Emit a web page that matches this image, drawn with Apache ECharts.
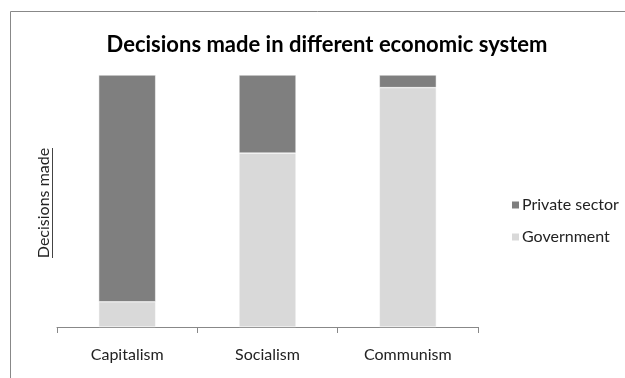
<!DOCTYPE html>
<html><head><meta charset="utf-8">
<script src="https://cdn.jsdelivr.net/npm/echarts@6/dist/echarts.min.js"></script>
<style>html,body{margin:0;padding:0;background:#fff}#c{width:625px;height:378px}</style>
</head><body><div id="c"></div>
<script>
var categories = ['Capitalism', 'Socialism', 'Communism'];
var government = [10, 69, 95];
var privateSector = [90, 31, 5];
var seriesNames = ['Private sector', 'Government'];
var titleText = 'Decisions made in different economic system';
var yName = 'Decisions made';

var chart = echarts.init(document.getElementById('c'));
var font = 'Lato, sans-serif';
chart.setOption({
  animation: false,
  title: {text: titleText, left: 322, top: 29, textAlign: 'center',
    textStyle: {fontFamily: font, fontSize: 22, fontWeight: 'bold', color: '#000'}},
  legend: {orient: 'vertical', left: 505, top: 192, itemGap: 16, itemWidth: 9, itemHeight: 9,
    icon: 'rect', data: [seriesNames[0], seriesNames[1]],
    textStyle: {fontFamily: font, fontSize: 16, color: '#222', padding: [0,0,0,-3]}},
  grid: {left: 57, right: 147, top: 75, bottom: 51},
  xAxis: {type: 'category', data: categories,
    axisLine: {lineStyle: {color: '#888'}},
    axisTick: {show: true, length: 6, lineStyle: {color: '#888'}},
    axisLabel: {fontFamily: font, fontSize: 16, color: '#222', margin: 20}},
  yAxis: {type: 'value', min: 0, max: 100, show: false, splitLine: {show: false}},
  series: [
    {name: seriesNames[1], type: 'bar', stack: 's', data: government, barWidth: 57,
      itemStyle: {color: '#d9d9d9', borderColor: '#fff', borderWidth: 0.5}},
    {name: seriesNames[0], type: 'bar', stack: 's', data: privateSector, barWidth: 57,
      itemStyle: {color: '#7f7f7f', borderColor: '#fff', borderWidth: 0.5}}
  ],
  graphic: [
    {type: 'line', shape: {x1: 10.5, y1: 11.5, x2: 625, y2: 11.5}, style: {stroke: '#888', lineWidth: 1}},
    {type: 'line', shape: {x1: 10.5, y1: 11.5, x2: 10.5, y2: 378}, style: {stroke: '#888', lineWidth: 1}},
    {type: 'text', x: 44, y: 203, rotation: Math.PI/2,
      style: {text: yName, fontFamily: font, fontSize: 16, fill: '#222', align: 'center', verticalAlign: 'middle'}},
    {type: 'line', shape: {x1: 52.5, y1: 148, x2: 52.5, y2: 258}, style: {stroke: '#444', lineWidth: 1}}
  ]
});
</script></body></html>
